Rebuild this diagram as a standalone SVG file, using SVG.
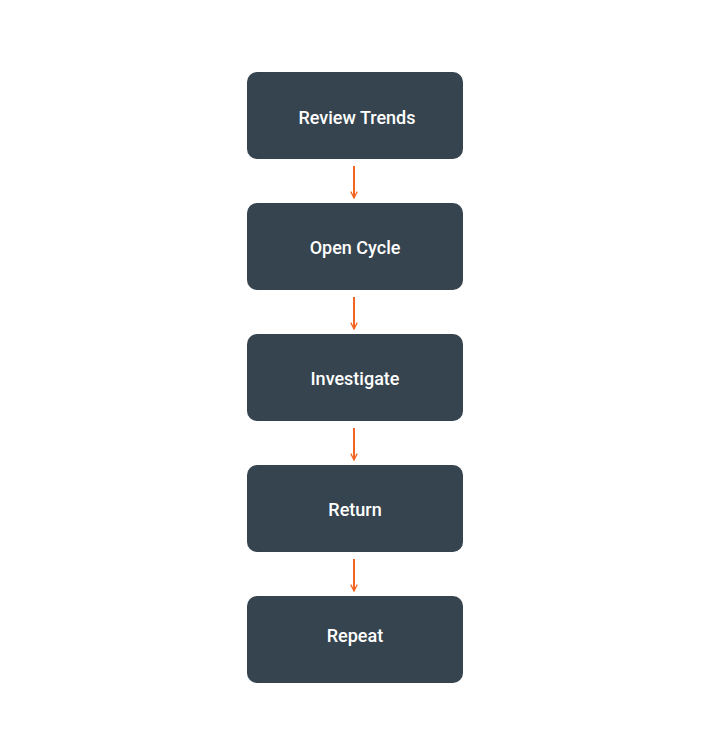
<svg xmlns="http://www.w3.org/2000/svg" width="710" height="755" viewBox="0 0 710 755">
<style>
.n rect{fill:#36444f}
.n text{fill:#fff;font-family:Roboto,"Liberation Sans",sans-serif;font-size:18px;font-weight:500;text-anchor:middle;dominant-baseline:central}
.c path{stroke:#f26522;stroke-width:2;fill:none}
</style>
<defs><marker id="a" viewBox="0 0 10 10" refX="9" refY="5" markerWidth="8" markerHeight="8" markerUnits="userSpaceOnUse" orient="auto"><path d="M1,1 L9,5 L1,9" fill="none" stroke="#f26522" stroke-width="1.6"/></marker></defs>
<rect width="710" height="755" fill="#fff"/>
<g id="n1" class="n"><rect x="247" y="72" width="216" height="87" rx="10"/><text x="357" y="117">Review Trends</text></g>
<g id="n2" class="n"><rect x="247" y="203" width="216" height="87" rx="10"/><text x="355" y="247">Open Cycle</text></g>
<g id="n3" class="n"><rect x="247" y="334" width="216" height="87" rx="10"/><text x="355" y="378">Investigate</text></g>
<g id="n4" class="n"><rect x="247" y="465" width="216" height="87" rx="10"/><text x="355" y="509">Return</text></g>
<g id="n5" class="n"><rect x="247" y="596" width="216" height="87" rx="10"/><text x="355" y="635">Repeat</text></g>
<g id="connectors" class="c">
<path d="M354,166 V198" marker-end="url(#a)"/>
<path d="M354,297 V329" marker-end="url(#a)"/>
<path d="M354,428 V460" marker-end="url(#a)"/>
<path d="M354,559 V591" marker-end="url(#a)"/>
</g>
</svg>
